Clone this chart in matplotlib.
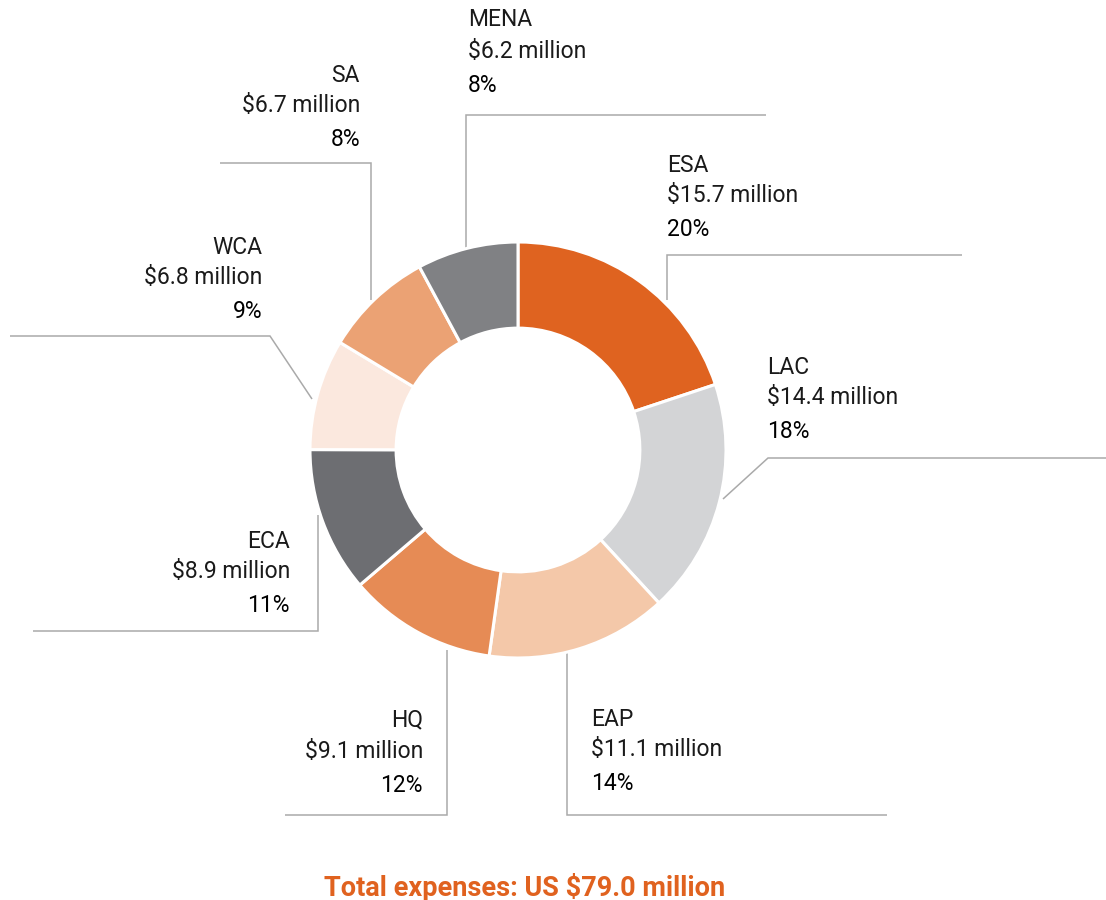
import matplotlib
matplotlib.use("Agg")
import matplotlib.pyplot as plt

# Expenses by region (US$ million), clockwise from 12 o'clock
regions = ["ESA", "LAC", "EAP", "HQ", "ECA", "WCA", "SA", "MENA"]
expenses = [15.7, 14.4, 11.1, 9.1, 8.9, 6.8, 6.7, 6.2]
total_expenses = 79.0
colors = ["#DF6320", "#D3D4D6", "#F4C8A9", "#E68B55",
          "#6D6E72", "#FBE8DE", "#EBA274", "#808184"]

W, H = 1106, 900
fig = plt.figure(figsize=(W / 100, H / 100), dpi=100)
ax = fig.add_axes([0, 0, 1, 1])


def P(x, y):
    """Pixel-style coordinates (origin top-left) to axes data coordinates."""
    return x, H - y


cx, cy = P(518, 450)
R = 208
ax.pie(expenses, colors=colors, startangle=90, counterclock=False,
       center=(cx, cy), radius=R,
       wedgeprops=dict(width=R * 0.414, edgecolor="white", linewidth=2.2))
ax.set_xlim(0, W)
ax.set_ylim(0, H)
ax.set_aspect("auto")
ax.axis("off")

# Leader-line routes and label anchors per region
leaders = {
    "ESA":  [(667, 300), (667, 255), (962, 255)],
    "LAC":  [(723, 499), (768, 458), (1106, 458)],
    "EAP":  [(567, 650), (567, 815), (887, 815)],
    "HQ":   [(447, 650), (447, 815), (285, 815)],
    "ECA":  [(318, 515), (318, 631), (33, 631)],
    "WCA":  [(312, 399), (270, 336), (10, 336)],
    "SA":   [(371, 300), (371, 163), (220, 163)],
    "MENA": [(466, 248), (466, 115), (766, 115)],
}
labels = {
    "ESA":  (667, 165, "left"),
    "LAC":  (767, 367, "left"),
    "EAP":  (591, 719, "left"),
    "HQ":   (423, 720, "right"),
    "ECA":  (290, 541, "right"),
    "WCA":  (262, 247, "right"),
    "SA":   (360, 75, "right"),
    "MENA": (468, 20, "left"),
}

line_color = "#AAAAAA"
text_color = "#1A1A1A"
font = "Roboto"
fs = 16.5

for name, val in zip(regions, expenses):
    pts = [P(x, y) for x, y in leaders[name]]
    xs, ys = zip(*pts)
    ax.plot(xs, ys, color=line_color, lw=1.1, zorder=0,
            solid_joinstyle="miter", solid_capstyle="butt")

    lx, ly, ha = labels[name]
    pct = round(val / total_expenses * 100)
    ax.text(*P(lx, ly), name, ha=ha, va="center", fontsize=fs,
            family=font, weight="normal", color=text_color)
    ax.text(*P(lx, ly + 31), f"${val:.1f} million", ha=ha, va="center",
            fontsize=fs, family=font, weight="normal", color=text_color)
    ax.text(*P(lx, ly + 65), f"{pct}%", ha=ha, va="center", fontsize=fs,
            family=font, weight="normal", color="#000000")

ax.text(*P(525, 896), f"Total expenses: US ${total_expenses:.1f} million",
        ha="center", va="baseline", fontsize=19.5, family=font, weight="bold",
        color="#E0621F")

fig.savefig("out.png", dpi=100)
